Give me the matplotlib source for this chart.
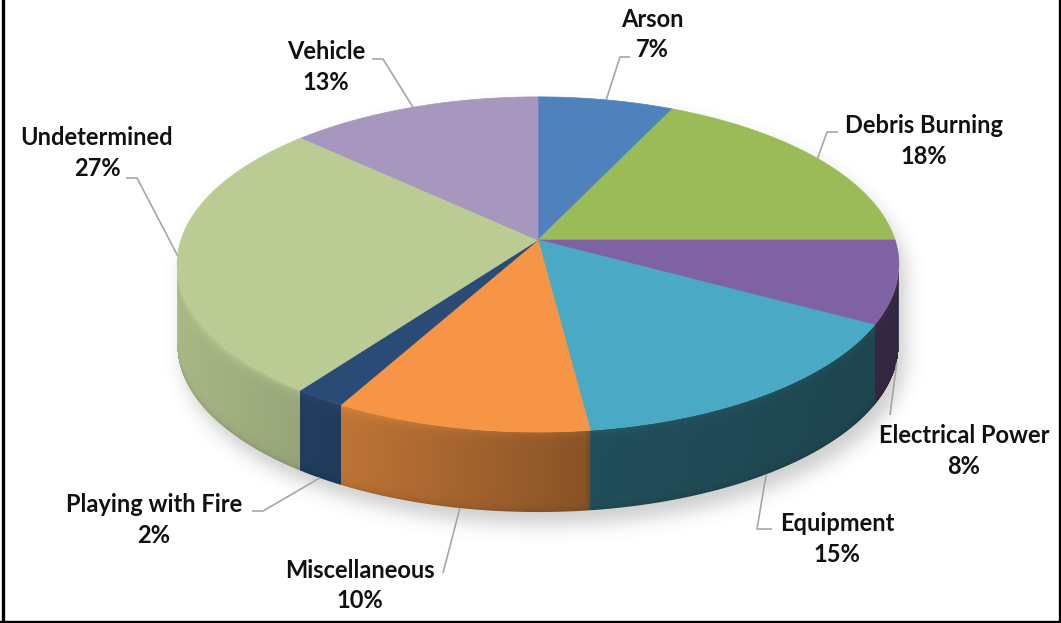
import numpy as np
import matplotlib
matplotlib.use("Agg")
import matplotlib.pyplot as plt
from matplotlib.patches import Polygon
from matplotlib.colors import to_rgb

# ---------------- data ----------------
categories = ["Arson", "Debris Burning", "Electrical Power", "Equipment",
              "Miscellaneous", "Playing with Fire", "Undetermined", "Vehicle"]
shares = [7, 18, 8, 15, 10, 2, 27, 13]
pct_labels = ["7%", "18%", "8%", "15%", "10%", "2%", "27%", "13%"]

# ---------------- style / layout ----------------
colors = ["#4F81BD", "#9BBB59", "#7F62A1", "#4AAAC5",
          "#F59545", "#2A4B75", "#BACC94", "#A797BF"]

W, H = 1061, 623
CX, CY = 538, 240          # apex of the pie on screen
A, B, K = 357, 164, 0.146  # ellipse half axes and perspective factor
DEPTH = 80                 # wall thickness in px
FS = 17

# label layout: (x centre, baseline name, baseline pct)
label_pos = {
    "Arson": (652, 27, 57),
    "Debris Burning": (924, 133, 164),
    "Electrical Power": (964, 443, 474),
    "Equipment": (837, 531, 562),
    "Miscellaneous": (360, 578, 608),
    "Playing with Fire": (154, 512, 543),
    "Undetermined": (97, 145, 176),
    "Vehicle": (326, 59, 90),
}
leader_tail = {
    "Arson": [(620, 57), (630, 57)],
    "Debris Burning": [(827, 132), (838, 132)],
    "Electrical Power": [(890, 415)],
    "Equipment": [(757, 529), (772, 529)],
    "Miscellaneous": [(443, 573)],
    "Playing with Fire": [(263, 511), (252, 511)],
    "Undetermined": [(137, 178), (126, 178)],
    "Vehicle": [(383, 59), (372, 59)],
}


def proj(theta_deg):
    t = np.radians(theta_deg)
    x = np.sin(t)
    y = np.cos(t)
    w = 1 + K * y
    return CX + A * x / w, CY - B * y / w, y


def wall_factor(u):
    return np.interp(u, [177, 320, 585, 592, 900], [0.9, 0.8, 0.56, 0.46, 0.4])


fig = plt.figure(figsize=(W / 100, H / 100), dpi=100)
ax = fig.add_axes([0, 0, 1, 1])
ax.set_xlim(0, W)
ax.set_ylim(H, 0)
ax.axis("off")

total = float(sum(shares))
edges = np.concatenate([[0], np.cumsum(shares)]) / total * 360.0

# ---------------- shadow ----------------
ts = np.linspace(0, 360, 4000)
us, vs, _ = proj(ts)
vmin = np.full(W, np.inf)
vmax = np.full(W, -np.inf)
ui = np.round(us).astype(int)
for c, v in zip(ui, vs):
    if 0 <= c < W:
        vmin[c] = min(vmin[c], v)
        vmax[c] = max(vmax[c], v)
rows = np.arange(H)[:, None]
sx, sy = 6, 12
vmin_s = np.roll(vmin, sx)
vmax_s = np.roll(vmax, sx)
mask = ((rows >= vmin_s[None, :] + sy) & (rows <= vmax_s[None, :] + DEPTH + sy)).astype(float)
sig = 9
kx = np.arange(-30, 31)
kern = np.exp(-kx ** 2 / (2 * sig ** 2))
kern /= kern.sum()
blur = np.apply_along_axis(lambda r: np.convolve(r, kern, mode="same"), 1, mask)
blur = np.apply_along_axis(lambda r: np.convolve(r, kern, mode="same"), 0, blur)
shadow = np.zeros((H, W, 4))
shadow[..., :3] = 0.45
shadow[..., 3] = blur * 0.35
ax.imshow(shadow, extent=[0, W, H, 0], zorder=1, interpolation="bilinear")

# ---------------- walls (front-facing part, rendered per pixel) ----------------
t_right = np.degrees(np.arccos(-K))
t_left = 360 - t_right
th = np.linspace(t_left, t_right, 3000)          # u increasing along this
uw, vw, _ = proj(th)
U = np.arange(W) + 0.5
V = np.arange(H) + 0.5
th_col = np.interp(U, uw, th)
vtop_col = np.interp(U, uw, vw)
incol = (U >= uw[0]) & (U <= uw[-1])
sl = np.clip(np.searchsorted(edges, th_col) - 1, 0, len(shares) - 1)
base_cols = np.array([to_rgb(c) for c in colors])
colcol = base_cols[sl] * wall_factor(U)[:, None]
dv = V[:, None] - vtop_col[None, :]
vf = 1 + 0.14 * np.exp(-np.clip(dv, 0, None) / 5.0) - 0.12 * np.exp(-np.clip(DEPTH - dv, 0, None) / 4.0)
wall = np.zeros((H, W, 4))
wall[..., :3] = np.clip(colcol[None, :, :] * vf[..., None], 0, 1)
alpha = np.clip(dv + 0.5, 0, 1) * np.clip(DEPTH - dv + 0.5, 0, 1) * incol[None, :]
alpha *= np.clip(U - uw[0] + 0.5, 0, 1)[None, :] * np.clip(uw[-1] - U + 0.5, 0, 1)[None, :]
wall[..., 3] = alpha
ax.imshow(wall, extent=[0, W, H, 0], zorder=2, interpolation="nearest")

# ---------------- top faces ----------------
for i, (a0, a1) in enumerate(zip(edges[:-1], edges[1:])):
    n = max(2, int((a1 - a0) / 0.5))
    tt = np.linspace(a0, a1, n + 1)
    u, v, _ = proj(tt)
    pts = [(CX, CY)] + list(zip(u, v))
    ax.add_patch(Polygon(pts, closed=True, facecolor=colors[i], edgecolor=colors[i],
                         linewidth=0.5, zorder=3))

# ---------------- labels and leaders ----------------
for i, name in enumerate(categories):
    mid = 0.5 * (edges[i] + edges[i + 1])
    u, v, yd = proj(mid)
    if yd < -0.2:
        v = v + DEPTH
    pts = [(u, v)] + leader_tail[name]
    xs, ys = zip(*pts)
    ax.plot(xs, ys, color="#A6A6A6", lw=1.2, zorder=4, solid_capstyle="butt")
    x, b1, b2 = label_pos[name]
    ax.text(x, b1, name, ha="center", va="baseline", fontsize=FS, fontweight="bold",
            family="Lato", color="#111111", zorder=5)
    ax.text(x, b2, pct_labels[i], ha="center", va="baseline", fontsize=FS,
            fontweight="bold", family="Lato", color="#111111", zorder=5)

# ---------------- frame ----------------
ax.plot([2.5, 2.5], [0, H], color="black", lw=2.4, zorder=6)
ax.plot([W - 1.5, W - 1.5], [0, H], color="black", lw=2.4, zorder=6)
ax.plot([0, W], [H - 1.5, H - 1.5], color="black", lw=2.4, zorder=6)

fig.savefig("out.png", dpi=100)
